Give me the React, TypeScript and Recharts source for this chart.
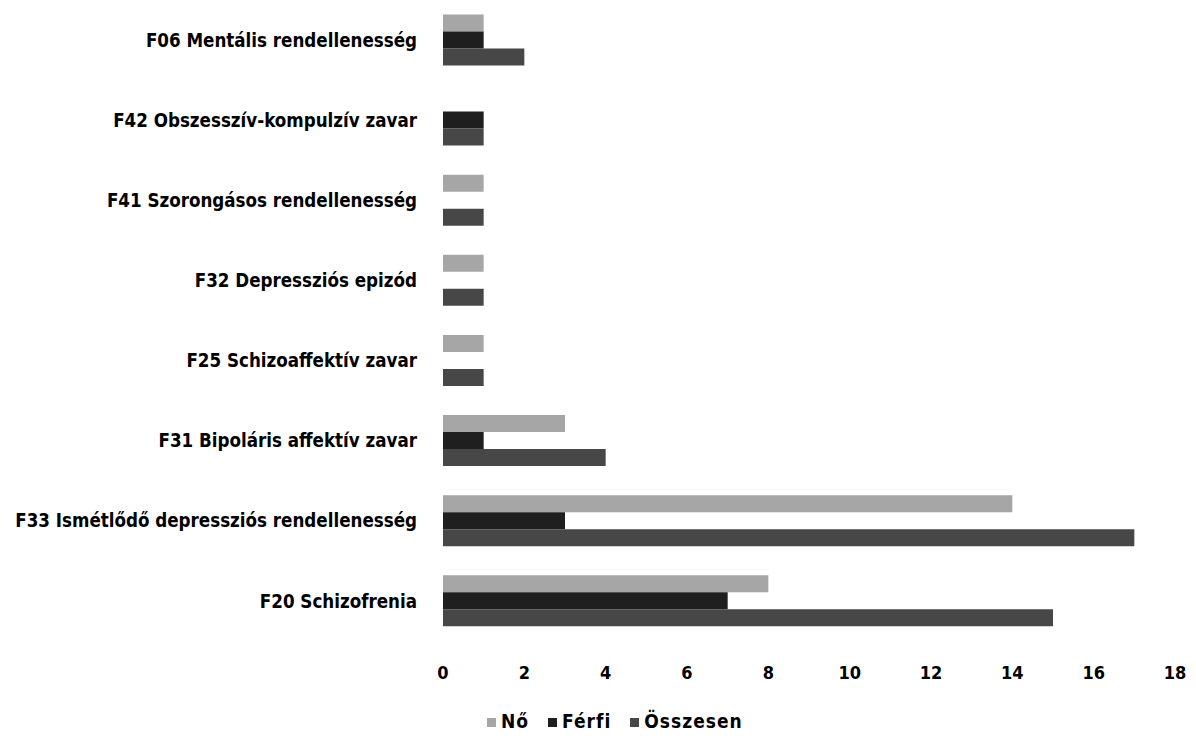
import React from "react";
import { BarChart, Bar, XAxis, YAxis, Legend } from "recharts";

const categories = [
  "F06 Mentális rendellenesség",
  "F42 Obszesszív-kompulzív zavar",
  "F41 Szorongásos rendellenesség",
  "F32 Depressziós epizód",
  "F25 Schizoaffektív zavar",
  "F31 Bipoláris affektív zavar",
  "F33 Ismétlődő depressziós rendellenesség",
  "F20 Schizofrenia",
];
const no = [1, 0, 1, 1, 1, 3, 14, 8];
const ferfi = [1, 1, 0, 0, 0, 1, 3, 7];
const osszesen = [2, 1, 1, 1, 1, 4, 17, 15];
const xTicks = [0, 2, 4, 6, 8, 10, 12, 14, 16, 18];
const seriesOrder = ["Nő", "Férfi", "Összesen"];

const data = categories.map((c, i) => ({
  name: c,
  "Nő": no[i],
  "Férfi": ferfi[i],
  "Összesen": osszesen[i],
}));

const FONT = "'DejaVu Sans Condensed', 'Liberation Sans Narrow', sans-serif";

export default function App() {
  return (
    <div style={{ position: "absolute", left: 0, top: 0, background: "#fff" }}>
      <BarChart
        width={1196}
        height={736}
        data={data}
        layout="vertical"
        margin={{ top: 0, right: 21, bottom: 33, left: 0 }}
        barCategoryGap="18%"
        barGap={0}
      >
        <XAxis
          type="number"
          domain={[0, 18]}
          ticks={xTicks}
          axisLine={false}
          tickLine={false}
          tickMargin={19}
          height={40}
          tick={{ fill: "#000", fontSize: 18, fontWeight: 700, fontFamily: FONT }}
        />
        <YAxis
          type="category"
          dataKey="name"
          width={443}
          axisLine={false}
          tickLine={false}
          tickMargin={20}
          interval={0}
          tick={{ fill: "#000", fontSize: 18.6, fontWeight: 700, fontFamily: FONT }}
        />
        <Legend
          verticalAlign="bottom"
          align="left"
          iconType="square"
          iconSize={9}
          itemSorter={(item: any) => seriesOrder.indexOf(item.value)}
          wrapperStyle={{
            left: 487,
            top: 710,
            width: "auto",
            fontFamily: FONT,
            fontWeight: 700,
            fontSize: 19,
            letterSpacing: "1px",
          }}
          formatter={(v) => (
            <span style={{ color: "#000", marginLeft: 1, marginRight: 9 }}>{v}</span>
          )}
        />
        <Bar dataKey="Nő" fill="#a6a6a6" isAnimationActive={false} />
        <Bar dataKey="Férfi" fill="#1f1f1f" isAnimationActive={false} />
        <Bar dataKey="Összesen" fill="#474747" isAnimationActive={false} />
      </BarChart>
    </div>
  );
}
